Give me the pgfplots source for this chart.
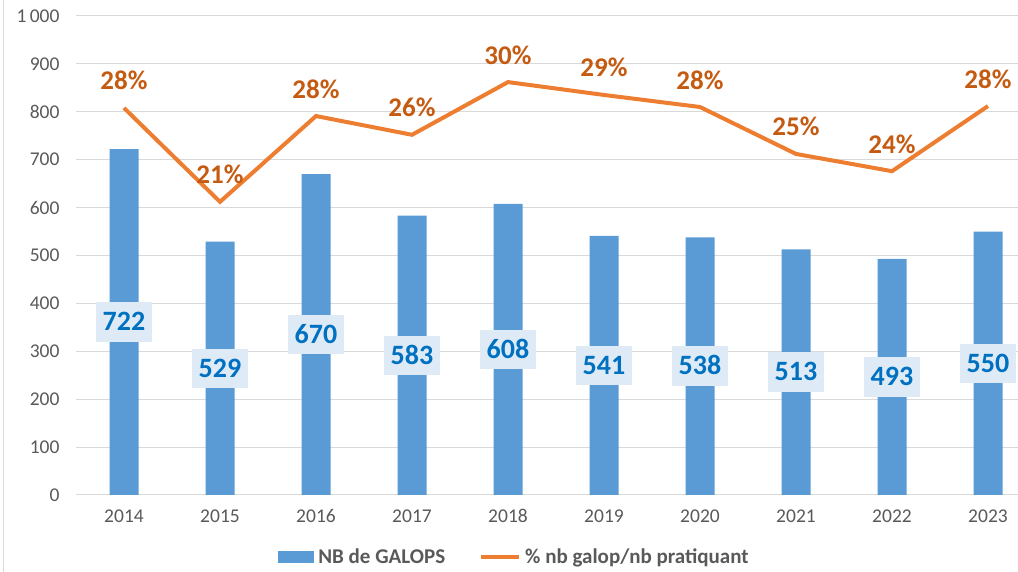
\documentclass[border=0pt]{standalone}
\usepackage{pgfplots}
\pgfplotsset{compat=1.18}
\usepackage{fontspec}
\setmainfont{Carlito}
\definecolor{barblue}{HTML}{5B9BD5}
\definecolor{lineorange}{HTML}{ED7D31}
\definecolor{pctlabel}{HTML}{C55A11}
\definecolor{vallabel}{HTML}{0070C0}
\definecolor{boxfill}{HTML}{DEEBF7}
\definecolor{tickgray}{HTML}{595959}
\definecolor{gridgray}{HTML}{D9D9D9}
\pgfplotsset{
  barlegend/.style={legend image code/.code={\fill[##1, draw=none] (0bp,-6bp) rectangle (36bp,6bp);}},
  linelegend/.style={legend image code/.code={\draw[##1] (0bp,0bp) -- (38bp,0bp);}},
  common/.style={
    at={(76bp,77bp)}, anchor=south west,
    scale only axis, width=942bp, height=479bp,
    xmin=-0.5, xmax=9.3125,
  }
}
\begin{document}
\begin{tikzpicture}
\useasboundingbox (0,0) rectangle (1018bp,572bp);
\draw[gridgray, line width=1bp] (3bp,0) -- (3bp,572bp);
\begin{axis}[common,
  ymin=0, ymax=1000,
  ytick={0,100,...,1000},
  yticklabels={0,100,200,300,400,500,600,700,800,900,1\,000},
  xtick={0,...,9},
  xticklabels={2014,2015,2016,2017,2018,2019,2020,2021,2022,2023},
  axis line style={draw=none},
  major tick length=0pt,
  ymajorgrids,
  grid style={gridgray, line width=1bp},
  yticklabel style={font=\fontsize{19.5bp}{20bp}\selectfont, text=tickgray, xshift=-13bp},
  xticklabel style={font=\fontsize{19.5bp}{20bp}\selectfont, text=tickgray, yshift=-11bp},
  clip=false,
]
\addplot[ybar, bar width=29bp, fill=barblue, draw=none,
  nodes near coords,
  visualization depends on={rawy \as \rawy},
  every node near coord/.append style={
    anchor=center, yshift={-0.2395bp*\rawy},
    font=\bfseries\fontsize{28bp}{28bp}\selectfont, color=vallabel,
    fill=boxfill, inner xsep=7bp, inner ysep=11bp, text height=17.5bp, text depth=0bp,
    /pgf/number format/fixed, /pgf/number format/precision=0,
    /pgf/number format/assume math mode=true},
] table {
x y
0 722
1 529
2 670
3 583
4 608
5 541
6 538
7 513
8 493
9 550
};
\end{axis}
\begin{axis}[common,
  ymin=0, ymax=0.35,
  hide axis,
  clip=false,
  legend columns=2,
  legend style={at={(0.4665,-0.129)}, anchor=center, draw=none, fill=none,
    font=\bfseries\fontsize{21bp}{21bp}\selectfont, text=tickgray,
    /tikz/every even column/.append style={column sep=30bp},
    nodes={inner ysep=2bp, inner xsep=4bp}},
]
\addlegendimage{barlegend, fill=barblue, draw=none}
\addlegendentry{NB de GALOPS}
\addplot[lineorange, line width=4bp, mark=none, linelegend,
  point meta=explicit symbolic,
  nodes near coords={\pgfplotspointmeta\%},
  every node near coord/.append style={
    anchor=base, yshift=18bp,
    font=\bfseries\fontsize{27bp}{27bp}\selectfont, color=pctlabel},
] table[meta=p] {
x y p
0 0.2828 28
1 0.2142 21
2 0.2769 28
3 0.2632 26
4 0.3017 30
5 0.2923 29
6 0.2835 28
7 0.2492 25
8 0.2366 24
9 0.2842 28
};
\addlegendentry{\% nb galop/nb pratiquant}
\end{axis}
\end{tikzpicture}
\end{document}
